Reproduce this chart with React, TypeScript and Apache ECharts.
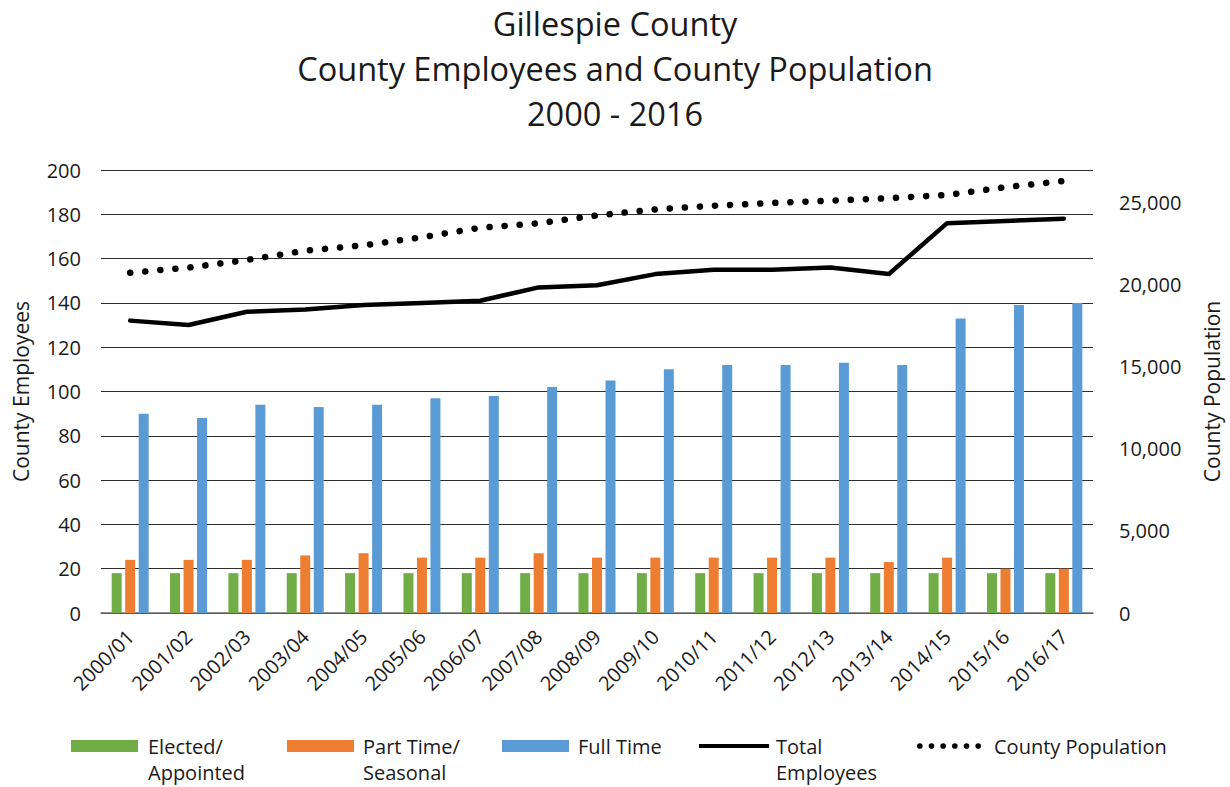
import React, { useEffect, useRef } from "react";
import * as echarts from "echarts";

// Fiscal years shown along the category axis
const categories = [
  "2000/01", "2001/02", "2002/03", "2003/04", "2004/05", "2005/06",
  "2006/07", "2007/08", "2008/09", "2009/10", "2010/11", "2011/12",
  "2012/13", "2013/14", "2014/15", "2015/16", "2016/17",
];

// Employee counts by type
const electedAppointed = [18, 18, 18, 18, 18, 18, 18, 18, 18, 18, 18, 18, 18, 18, 18, 18, 18];
const partTimeSeasonal = [24, 24, 24, 26, 27, 25, 25, 27, 25, 25, 25, 25, 25, 23, 25, 20, 20];
const fullTime = [90, 88, 94, 93, 94, 97, 98, 102, 105, 110, 112, 112, 113, 112, 133, 139, 140];
const totalEmployees = [132, 130, 136, 137, 139, 140, 141, 147, 148, 153, 155, 155, 156, 153, 176, 177, 178];

// County population (secondary axis)
const countyPopulation = [
  20740, 21050, 21520, 22080, 22410, 22900, 23480, 23750, 24230,
  24600, 24820, 24990, 25130, 25280, 25480, 25950, 26330,
];

const titleLines = ["Gillespie County", "County Employees and County Population", "2000 - 2016"];

const FONT = "'Open Sans', Lato, sans-serif";
const TEXT = "#1a1a1a";

// Six round dots for the population legend key (64 x 6 box)
const dotsIcon = (() => {
  const r = 2.8;
  const parts: string[] = [];
  for (let i = 0; i < 6; i++) {
    const cx = 3 + i * 11.6;
    parts.push(`M${cx - r},3a${r},${r} 0 1,0 ${2 * r},0a${r},${r} 0 1,0 ${-2 * r},0Z`);
  }
  return "path://" + parts.join("");
})();

export default function App() {
  const ref = useRef<HTMLDivElement>(null);

  useEffect(() => {
    if (!ref.current) return;
    const chart = echarts.init(ref.current, undefined, { renderer: "svg" });

    const LINE_H = 26;
    const keyCenter = 746;
    const legendBase = {
      orient: "horizontal" as const,
      padding: 0,
      itemGap: 0,
      selectedMode: false,
    };
    // Legend labels: a blank first line keeps the first real line level with the key
    const legendText = (padLeft: number) => ({
      fontSize: 20,
      fontFamily: FONT,
      color: TEXT,
      lineHeight: LINE_H,
      padding: [0, 0, 0, padLeft],
    });
    const topThree = keyCenter - (LINE_H * 3) / 2;
    const topOne = keyCenter - LINE_H / 2;

    chart.setOption({
      animation: false,
      backgroundColor: "#ffffff",
      textStyle: { fontFamily: FONT },
      title: {
        text: titleLines.join("\n"),
        left: "center",
        top: 1,
        padding: 0,
        textStyle: { fontSize: 32.5, fontWeight: "normal", color: TEXT, lineHeight: 45, fontFamily: FONT },
      },
      legend: [
        {
          ...legendBase, left: 71, top: topThree, itemWidth: 67, itemHeight: 12,
          data: [{ name: "Elected/Appointed", icon: "rect" }],
          formatter: () => " \nElected/\nAppointed", textStyle: legendText(5),
        },
        {
          ...legendBase, left: 287, top: topThree, itemWidth: 67, itemHeight: 12,
          data: [{ name: "Part Time/Seasonal", icon: "rect" }],
          formatter: () => " \nPart Time/\nSeasonal", textStyle: legendText(4),
        },
        {
          ...legendBase, left: 502, top: topOne, itemWidth: 67, itemHeight: 12,
          data: [{ name: "Full Time", icon: "rect" }], textStyle: legendText(4),
        },
        {
          ...legendBase, left: 699, top: topThree, itemWidth: 70, itemHeight: 4,
          data: [{ name: "Total Employees", icon: "rect" }],
          formatter: () => " \nTotal\nEmployees", textStyle: legendText(2),
        },
        {
          ...legendBase, left: 917, top: topOne, itemWidth: 64, itemHeight: 6,
          data: [{ name: "County Population", icon: dotsIcon }], textStyle: legendText(8),
        },
      ],
      grid: { left: 101, right: 128, top: 170, bottom: 174, containLabel: false },
      xAxis: {
        type: "category",
        data: categories,
        boundaryGap: true,
        axisTick: { show: false },
        axisLine: { lineStyle: { color: "#6e6e6e", width: 1.5 } },
        axisLabel: { rotate: 45, fontSize: 20, color: TEXT, margin: 20, fontFamily: FONT, interval: 0 },
      },
      yAxis: [
        {
          type: "value",
          min: 0,
          max: 200,
          interval: 20,
          axisLine: { show: false },
          axisTick: { show: false },
          axisLabel: { fontSize: 20, color: TEXT, margin: 20, fontFamily: FONT },
          splitLine: { lineStyle: { color: "#2e2e2e", width: 1 } },
          name: "County Employees",
          nameLocation: "middle",
          nameGap: 70,
          nameRotate: 90,
          nameTextStyle: { fontSize: 21, color: TEXT, fontFamily: FONT },
        },
        {
          type: "value",
          position: "right",
          min: 0,
          max: 27000,
          interval: 5000,
          axisLine: { show: false },
          axisTick: { show: false },
          splitLine: { show: false },
          axisLabel: {
            fontSize: 20,
            color: TEXT,
            margin: 26,
            fontFamily: FONT,
            formatter: (v: number) => (v % 5000 === 0 ? v.toLocaleString("en-US") : ""),
          },
          name: "County Population",
          nameLocation: "middle",
          nameGap: 108,
          nameRotate: 90,
          nameTextStyle: { fontSize: 21, color: TEXT, fontFamily: FONT },
        },
      ],
      series: [
        {
          name: "Elected/Appointed",
          type: "bar",
          data: electedAppointed,
          barWidth: 10,
          barGap: "35%",
          itemStyle: { color: "#70AD47" },
        },
        {
          name: "Part Time/Seasonal",
          type: "bar",
          data: partTimeSeasonal,
          barWidth: 10,
          barGap: "35%",
          itemStyle: { color: "#ED7D31" },
        },
        {
          name: "Full Time",
          type: "bar",
          data: fullTime,
          barWidth: 10,
          barGap: "35%",
          itemStyle: { color: "#5B9BD5" },
        },
        {
          name: "Total Employees",
          type: "line",
          data: totalEmployees,
          symbol: "none",
          lineStyle: { color: "#000000", width: 4.5, cap: "round", join: "round" },
          itemStyle: { color: "#000000" },
          z: 5,
        },
        {
          name: "County Population",
          type: "line",
          yAxisIndex: 1,
          data: countyPopulation,
          symbol: "none",
          lineStyle: { color: "#000000", width: 6.5, type: [0.1, 15], cap: "round" },
          itemStyle: { color: "#000000" },
          z: 5,
        },
      ],
    });

    return () => chart.dispose();
  }, []);

  return (
    <div
      ref={ref}
      style={{ position: "fixed", left: 0, top: 0, width: 1230, height: 787, background: "#fff" }}
    />
  );
}
